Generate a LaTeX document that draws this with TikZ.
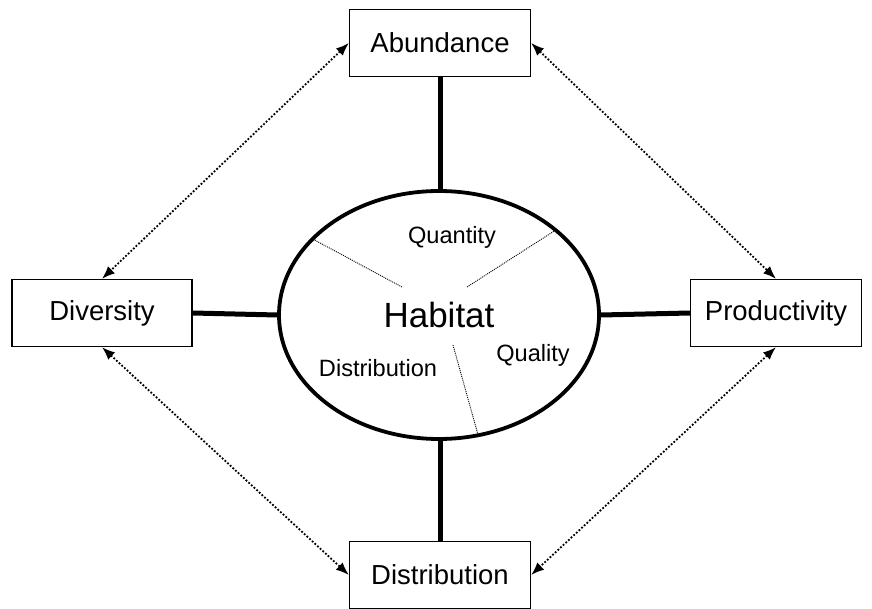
\documentclass[tikz,border=0pt]{standalone}
\usepackage{fontspec}
\setmainfont{Liberation Sans}
\usetikzlibrary{positioning, arrows.meta, shapes.geometric}

\begin{document}
\begin{tikzpicture}[x=1pt,y=-1pt,
  box/.style={draw,line width=1.3pt,minimum height=67pt,inner sep=0pt,
    font=\fontsize{27.5}{33}\selectfont},
  hab/.style={draw,ellipse,line width=3.8pt,minimum width=320pt,minimum height=248pt,
    inner sep=0pt,font=\fontsize{35}{42}\selectfont},
  part/.style={font=\fontsize{23.6}{28}\selectfont},
  link/.style={line width=5pt},
  split/.style={line width=0.9pt,dash pattern=on 1pt off 1pt},
  rel/.style={line width=1.8pt,dash pattern=on 1.8pt off 1.8pt,
    {Latex[length=13pt,width=10pt]}-{Latex[length=13pt,width=10pt]}}]
\useasboundingbox (0,0) rectangle (872,609);
% the four outer boxes
\node[box,minimum width=181pt] (abund) at (440,43) {Abundance};
\node[box,minimum width=180pt] (div) at (102,313) {Diversity};
\node[box,minimum width=171pt] (prod) at (776,313) {Productivity};
\node[box,minimum width=181pt] (distr) at (440,575) {Distribution};
% habitat in the middle
\node[hab] (habitat) at (439,315) {Habitat};
\node[part] (qty) at (452,237) {Quantity};
\node[part] (qual) at (533,355) {Quality};
\node[part] (hdistr) at (378,368) {Distribution};
% dividers inside the ellipse
\coordinate (s1) at (402,287);
\coordinate (s2) at (467,287);
\coordinate (s3) at (453,345);
\draw[split] (s1) -- (habitat.149);
\draw[split] (s2) -- (habitat.36);
\draw[split] (s3) -- (habitat.-72);
% thick links
\draw[link] (abund.south) -- (abund.south |- habitat.north);
\draw[link] (distr.north) -- (distr.north |- habitat.south);
\draw[link] (div.east) -- (habitat.west);
\draw[link] (prod.west) -- (habitat.east);
% dotted relations
\draw[rel] (abund.west) -- (div.north);
\draw[rel] (abund.east) -- (prod.north);
\draw[rel] (div.south) -- (distr.west);
\draw[rel] (prod.south) -- (distr.east);
\end{tikzpicture}
\end{document}
